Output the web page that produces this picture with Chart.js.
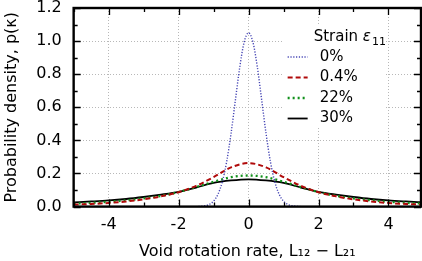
<!DOCTYPE html>
<html>
<head>
<meta charset="utf-8">
<script src="https://cdn.jsdelivr.net/npm/chart.js@4/dist/chart.umd.min.js"></script>
<style>
  html, body { margin: 0; padding: 0; background: #fff; overflow: hidden; }
  #wrap { width: 422px; height: 261px; }
</style>
</head>
<body>
<div id="wrap"><canvas id="chart"></canvas></div>
<script>
// strain series
const strainLabels = ['0%', '0.4%', '22%', '30%'];

const blueX = [-1.75, -1.5, -1.375, -1.25, -1.125, -1, -0.875, -0.75, -0.625, -0.5, -0.375, -0.25, -0.125, 0,
    0.125, 0.25, 0.375, 0.5, 0.625, 0.75, 0.875, 1, 1.125, 1.25, 1.375, 1.5, 1.75];
const blueY = [0, 0, 0.002, 0.005, 0.013, 0.033, 0.074, 0.150, 0.272, 0.442, 0.645, 0.845, 0.994, 1.05,
    0.994, 0.845, 0.645, 0.442, 0.272, 0.150, 0.074, 0.033, 0.013, 0.005, 0.002, 0, 0];

const wideX = [-5, -4.5, -4, -3.5, -3, -2.5, -2, -1.5, -1, -0.5, 0, 0.5, 1, 1.5, 2, 2.5, 3, 3.5, 4, 4.5, 5];
const redY = [0.012, 0.016, 0.022, 0.031, 0.044, 0.062, 0.087, 0.125, 0.178, 0.237, 0.263, 0.237, 0.178, 0.125, 0.087, 0.062, 0.044, 0.031, 0.022, 0.016, 0.012];
const greenY = [0.018, 0.023, 0.029, 0.038, 0.05, 0.065, 0.088, 0.118, 0.15, 0.178, 0.188, 0.178, 0.15, 0.118, 0.088, 0.065, 0.05, 0.038, 0.029, 0.023, 0.018];
const blackY = [0.026, 0.031, 0.037, 0.046, 0.058, 0.072, 0.089, 0.115, 0.143, 0.158, 0.165, 0.158, 0.143, 0.115, 0.089, 0.072, 0.058, 0.046, 0.037, 0.031, 0.026];

const xTicks = [-4, -2, 0, 2, 4];
const xMinor = [-5, -3, -1, 1, 3];
const yTicks = [0, 0.2, 0.4, 0.6, 0.8, 1.0, 1.2];
const yMinor = [0.1, 0.3, 0.5, 0.7, 0.9, 1.1];

const FONT = "'DejaVu Sans', sans-serif";

function pts(xs, ys) {
    const out = [];
    for (let i = 0; i < xs.length; i++) {
        out.push({ x: xs[i], y: ys[i] });
    }
    return out;
}

const series = [
    { label: strainLabels[0], data: pts(blueX, blueY), color: '#4444b4', width: 1.4, dash: [1.2, 1.6] },
    { label: strainLabels[1], data: pts(wideX, redY), color: '#b00a0a', width: 2, dash: [5, 3] },
    { label: strainLabels[2], data: pts(wideX, greenY), color: '#10901a', width: 2.3, dash: [2, 3] },
    { label: strainLabels[3], data: pts(wideX, blackY), color: '#000000', width: 1.8, dash: [] }
];

// frame, inward ticks and the legend box
const framePlugin = {
    id: 'frame',
    afterDatasetsDraw(chart) {
        const ctx = chart.ctx;
        const a = chart.chartArea;
        const xs = chart.scales.x;
        const ys = chart.scales.y;
        ctx.save();
        ctx.strokeStyle = '#000';
        ctx.lineWidth = 1.3;
        ctx.beginPath();
        xTicks.forEach(v => {
            const p = Math.round(xs.getPixelForValue(v)) + 0.5;
            ctx.moveTo(p, a.bottom); ctx.lineTo(p, a.bottom - 7);
            ctx.moveTo(p, a.top); ctx.lineTo(p, a.top + 7);
        });
        xMinor.forEach(v => {
            const p = Math.round(xs.getPixelForValue(v)) + 0.5;
            ctx.moveTo(p, a.bottom); ctx.lineTo(p, a.bottom - 4);
            ctx.moveTo(p, a.top); ctx.lineTo(p, a.top + 4);
        });
        yTicks.forEach(v => {
            const p = Math.round(ys.getPixelForValue(v)) + 0.5;
            ctx.moveTo(a.left, p); ctx.lineTo(a.left + 7, p);
            ctx.moveTo(a.right, p); ctx.lineTo(a.right - 7, p);
        });
        yMinor.forEach(v => {
            const p = Math.round(ys.getPixelForValue(v)) + 0.5;
            ctx.moveTo(a.left, p); ctx.lineTo(a.left + 4, p);
            ctx.moveTo(a.right, p); ctx.lineTo(a.right - 4, p);
        });
        ctx.stroke();

        ctx.lineWidth = 2.4;
        ctx.strokeRect(a.left, a.top, a.right - a.left, a.bottom - a.top);

        // legend
        const lx = a.left + 210;
        const ly = a.top + 17;
        ctx.fillStyle = '#fff';
        ctx.fillRect(lx, ly, 102, 103);
        ctx.fillStyle = '#000';
        ctx.textBaseline = 'middle';
        ctx.textAlign = 'left';
        ctx.font = '15px ' + FONT;
        ctx.fillText('Strain ', lx + 30, ly + 12);
        let w = ctx.measureText('Strain ').width;
        ctx.font = 'italic 15px ' + FONT;
        ctx.fillText('ε', lx + 30 + w, ly + 12);
        w += ctx.measureText('ε').width + 1;
        ctx.font = '11px ' + FONT;
        ctx.fillText('11', lx + 30 + w, ly + 17);
        ctx.font = '15px ' + FONT;
        series.forEach((s, i) => {
            const y = ly + 32 + i * 20.5;
            ctx.strokeStyle = s.color;
            ctx.lineWidth = s.width;
            ctx.setLineDash(s.dash);
            ctx.beginPath();
            ctx.moveTo(lx + 4, y); ctx.lineTo(lx + 24, y);
            ctx.stroke();
            ctx.setLineDash([]);
            ctx.fillText(s.label, lx + 36, y);
        });
        ctx.restore();
    }
};

const ctx = document.getElementById('chart').getContext('2d');

new Chart(ctx, {
    type: 'line',
    data: {
        datasets: series.map(s => ({
            label: s.label,
            data: s.data,
            borderColor: s.color,
            borderWidth: s.width,
            borderDash: s.dash,
            pointRadius: 0,
            fill: false,
            cubicInterpolationMode: 'monotone'
        }))
    },
    options: {
        responsive: true,
        maintainAspectRatio: false,
        animation: false,
        layout: { padding: { top: 8, right: 1, left: 0, bottom: 0 } },
        plugins: {
            legend: { display: false },
            tooltip: { enabled: false }
        },
        scales: {
            x: {
                type: 'linear',
                min: -5,
                max: 4.93,
                afterBuildTicks: s => { s.ticks = xTicks.map(v => ({ value: v })); },
                afterFit: s => { s.paddingLeft = 0; s.paddingRight = 0; },
                ticks: { color: '#000', font: { family: FONT, size: 16 }, padding: 9 },
                grid: { color: '#b8b8b8', lineWidth: 1, drawTicks: false },
                border: { display: false, dash: [1, 2] },
                title: {
                    display: true,
                    text: 'Void rotation rate, L₁₂ − L₂₁',
                    color: '#000',
                    font: { family: FONT, size: 16 },
                    padding: { top: -2, bottom: 0 }
                }
            },
            y: {
                min: 0,
                max: 1.2,
                afterBuildTicks: s => { s.ticks = yTicks.map(v => ({ value: v })); },
                afterFit: s => { s.paddingTop = 0; s.paddingBottom = 0; },
                ticks: {
                    color: '#000',
                    font: { family: FONT, size: 16 },
                    padding: 12,
                    callback: v => v.toFixed(1)
                },
                grid: { color: '#b8b8b8', lineWidth: 1, drawTicks: false },
                border: { display: false, dash: [1, 2] },
                title: {
                    display: true,
                    text: 'Probability density, p(κ)',
                    color: '#000',
                    font: { family: FONT, size: 16 },
                    padding: { top: 2, bottom: 3 }
                }
            }
        }
    },
    plugins: [framePlugin]
});
</script>
</body>
</html>
